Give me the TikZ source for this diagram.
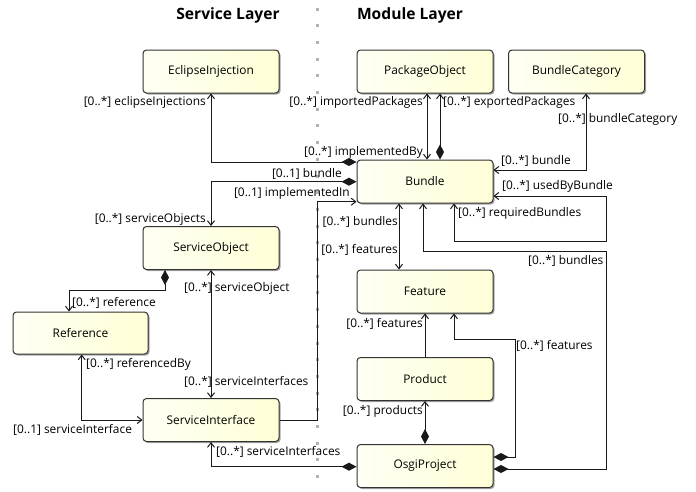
\documentclass[tikz,border=0pt]{standalone}
\usepackage{fontspec}
\setmainfont{Open Sans}
\usetikzlibrary{arrows.meta,shadows}
\tikzset{
  oa/.tip={Straight Barb[length=4.5pt,width=7pt]},
  dm/.tip={Diamond[length=15pt,width=8pt]},
}
\begin{document}
\begin{tikzpicture}[x=1pt,y=-1pt,
  cls/.style={draw=black!80, line width=1pt, rounded corners=3.5pt,
    minimum width=136pt, minimum height=43pt, inner sep=0pt,
    left color=yellow!4, right color=yellow!16!white,
    drop shadow={shadow xshift=1.5pt,shadow yshift=-1.5pt,opacity=0.5,fill=black!70},
    font=\fontsize{11.9}{14}\selectfont},
  lbl/.style={inner sep=0pt, font=\fontsize{11.9}{14}\selectfont},
  ttl/.style={inner sep=0pt, font=\fontsize{15.6}{18}\selectfont\bfseries},
  conn/.style={line width=1pt, draw=black!90},
  sep/.style={draw=black!30, line width=3pt, dash pattern=on 3pt off 13.7pt},
]
\useasboundingbox (0,0) rectangle (696,491);
\draw[sep] (317,7.5) -- (317,491);

\node[ttl] (t1) at (228,15) {Service Layer};
\node[ttl] (t2) at (410,15) {Module Layer};

\node[cls] (ecl) at (211,71.5) {EclipseInjection};
\node[cls] (pkg) at (425,71.5) {PackageObject};
\node[cls] (cat) at (576.5,71.5) {BundleCategory};
\node[cls] (bun) at (425,181.5) {Bundle};
\node[cls] (so) at (211,248) {ServiceObject};
\node[cls, minimum width=135pt, minimum height=42pt] (ref) at (80.5,333) {Reference};
\node[cls] (si) at (211,420) {ServiceInterface};
\node[cls] (feat) at (425,291.5) {Feature};
\node[cls] (prod) at (425,379) {Product};
\node[cls] (osgi) at (425,466) {OsgiProject};

% connectors
\draw[conn, dm-oa] (bun.west |- 0,162) -| (ecl.south);
\draw[conn, oa-oa] (pkg.south -| 427,0) -- (bun.north -| 427,0);
\draw[conn, dm-oa] (bun.north -| 440,0) -- (pkg.south -| 440,0);
\draw[conn, oa-oa] (bun.east |- 0,170) -| (cat.south -| 586,0);
\draw[conn, oa-oa] (bun.east |- 0,196) -| (606,241.7) -| (bun.south -| 454,0);
\draw[conn, dm-oa] (osgi.east |- 0,469) -| (606,251.7) -| (bun.south -| 423,0);
\draw[conn, oa-oa] (bun.south -| 399,0) -- (feat.north -| 399,0);
\draw[conn, -oa] (prod.north) -- (feat.south);
\draw[conn, dm-oa] (osgi.east |- 0,457) -| (515,339) -| (feat.south -| 454,0);
\draw[conn, dm-oa] (osgi.north) -- (prod.south);
\draw[conn, dm-oa] (osgi.west |- 0,466.7) -| (si.south);
\draw[conn, dm-oa] (bun.west |- 0,181.7) -| (so.north);
\draw[conn, -oa] (si.east) -| (317,201.7) -- (bun.west |- 0,201.7);
\draw[conn, oa-oa] (so.south) -- (si.north);
\draw[conn, dm-oa] (so.south -| 165,0) |- (69,290) -- (ref.north -| 69,0);
\draw[conn, oa-oa] (ref.south -| 81.7,0) |- (si.west);

% labels
\node[lbl, anchor=east] (l1) at (206,102) {[0..*] eclipseInjections};
\node[lbl, anchor=east] (l2) at (423,102) {[0..*] importedPackages};
\node[lbl, anchor=west] (l3) at (443,102) {[0..*] exportedPackages};
\node[lbl, anchor=west] (l4) at (558,119) {[0..*] bundleCategory};
\node[lbl, anchor=east] (l5) at (423,152) {[0..*] implementedBy};
\node[lbl, anchor=west] (l6) at (501,161) {[0..*] bundle};
\node[lbl, anchor=east] (l7) at (342,174) {[0..1] bundle};
\node[lbl, anchor=east] (l8) at (350,193) {[0..1] implementedIn};
\node[lbl, anchor=west] (l9) at (502,186) {[0..*] usedByBundle};
\node[lbl, anchor=west] (l10) at (458,213) {[0..*] requiredBundles};
\node[lbl, anchor=east] (l11) at (206,219) {[0..*] serviceObjects};
\node[lbl, anchor=east] (l12) at (398,221.5) {[0..*] bundles};
\node[lbl, anchor=east] (l13) at (398,250) {[0..*] features};
\node[lbl, anchor=west] (l14) at (528,261) {[0..*] bundles};
\node[lbl, anchor=west] (l15) at (184,288) {[0..*] serviceObject};
\node[lbl, anchor=west] (l16) at (72,302.5) {[0..*] reference};
\node[lbl, anchor=east] (l17) at (423,324) {[0..*] features};
\node[lbl, anchor=west] (l18) at (516,346) {[0..*] features};
\node[lbl, anchor=west] (l19) at (86,364) {[0..*] referencedBy};
\node[lbl, anchor=west] (l20) at (184,382) {[0..*] serviceInterfaces};
\node[lbl, anchor=east] (l21) at (423,411.5) {[0..*] products};
\node[lbl, anchor=west] (l22) at (13,430) {[0..1] serviceInterface};
\node[lbl, anchor=west] (l23) at (216,452) {[0..*] serviceInterfaces};
\end{tikzpicture}
\end{document}
